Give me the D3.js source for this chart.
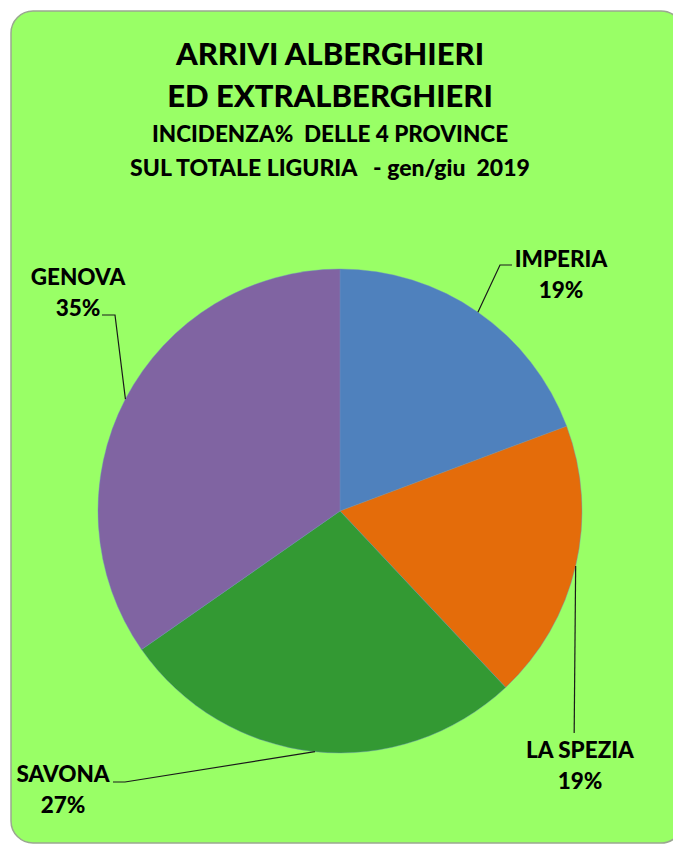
<!DOCTYPE html>
<html><head><meta charset="utf-8">
<script src="https://cdn.jsdelivr.net/npm/d3@7"></script>
<style>html,body{margin:0;padding:0;background:#fff;}svg{display:block;}</style>
</head><body>
<svg id="chart" width="673" height="846"></svg>
<script>
const categories = ["IMPERIA", "LA SPEZIA", "SAVONA", "GENOVA"];
const values = [19.3, 18.7, 27.3, 34.7];
const colors = ["#4F81BD", "#E46C0A", "#339933", "#8064A2"];
const titleLines = ["ARRIVI ALBERGHIERI", "ED EXTRALBERGHIERI", "INCIDENZA%  DELLE 4 PROVINCE", "SUL TOTALE LIGURIA   - gen/giu  2019"];

const svg = d3.select("#chart");
const font = "Lato, 'Open Sans', sans-serif";

svg.append("rect").attr("x", 11).attr("y", 11).attr("width", 672).attr("height", 832)
  .attr("rx", 22).attr("fill", "#99FF66").attr("stroke", "#9aa890").attr("stroke-width", 1.5);

const titleLayout = [{y: 65, size: 31}, {y: 107, size: 31}, {y: 142, size: 22.5}, {y: 176, size: 23}];
svg.append("g").selectAll("text").data(titleLines).join("text")
  .attr("x", 330).attr("y", (d, i) => titleLayout[i].y)
  .attr("text-anchor", "middle").attr("font-family", font).attr("font-weight", 900)
  .attr("font-size", (d, i) => titleLayout[i].size).attr("fill", "#000")
  .style("white-space", "pre").text(d => d);

const cx = 340, cy = 511, r = 242;
const data = categories.map((c, i) => ({cat: c, value: values[i], color: colors[i]}));
const pie = d3.pie().sort(null).value(d => d.value);
const arcs = pie(data);
const arc = d3.arc().innerRadius(0).outerRadius(r);
const g = svg.append("g").attr("transform", `translate(${cx},${cy})`);
g.selectAll("path").data(arcs).join("path")
  .attr("d", arc).attr("fill", d => d.data.color)
  .attr("stroke", "#6f8fc4").attr("stroke-width", 0.6).attr("stroke-opacity", 0.7);

// label layout (relative to chart)
const labelLayout = {
  "IMPERIA":   {x: 561, y: 267, elbow: [[500, 265], [512, 265]]},
  "LA SPEZIA": {x: 580, y: 758, elbow: [[null, 733]]},
  "SAVONA":    {x: 63,  y: 782, elbow: [[125, 782], [113, 782]]},
  "GENOVA":    {x: 78,  y: 285, elbow: [[115, 315], [102, 315]]}
};

const total = d3.sum(values);
arcs.forEach(a => {
  const L = labelLayout[a.data.cat];
  const mid = (a.startAngle + a.endAngle) / 2;
  const ex = cx + r * Math.sin(mid), ey = cy - r * Math.cos(mid);
  const pts = [[ex, ey]].concat(L.elbow.map(p => [p[0] === null ? ex - 1.5 : p[0], p[1]]));
  svg.append("path").attr("d", d3.line()(pts)).attr("fill", "none")
    .attr("stroke", "#1a1a1a").attr("stroke-width", 1.2);
  const t = svg.append("text").attr("text-anchor", "middle").attr("font-family", font)
    .attr("font-weight", 900).attr("font-size", 22.5).attr("fill", "#000");
  t.append("tspan").attr("x", L.x).attr("y", L.y).text(a.data.cat);
  t.append("tspan").attr("x", L.x).attr("y", L.y + 31).text(Math.round(a.data.value / total * 100) + "%");
});
</script>
</body></html>
